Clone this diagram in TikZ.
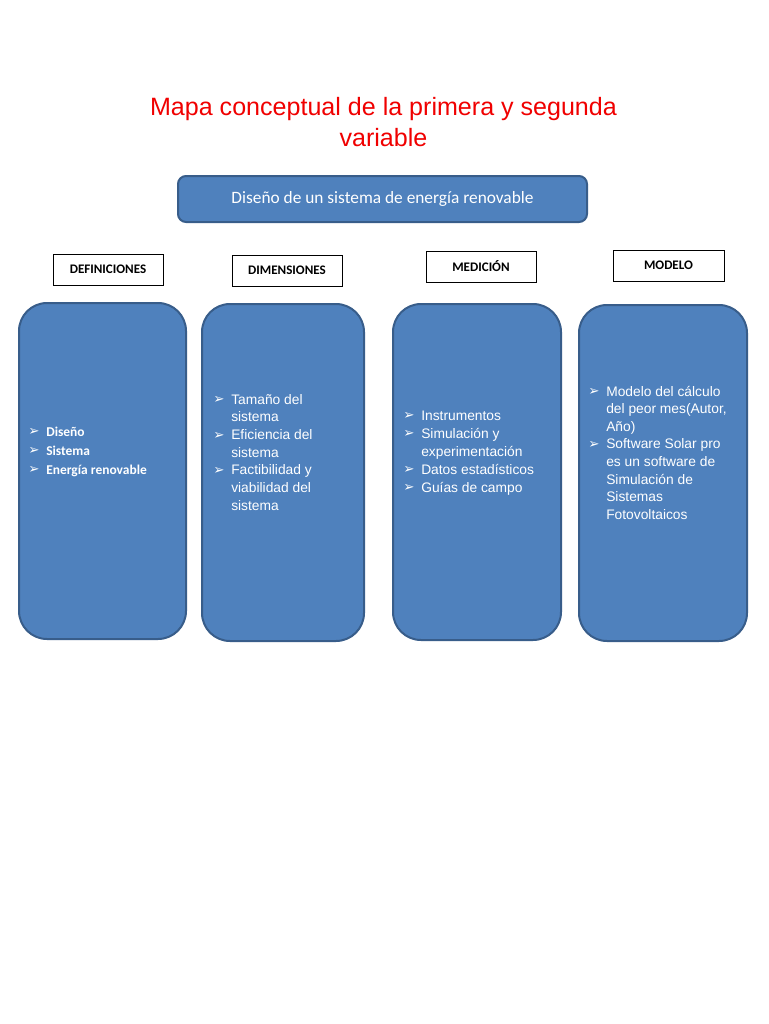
\documentclass[tikz,border=0pt]{standalone}
\usepackage{fontspec}
\setmainfont{Liberation Sans}
\newfontfamily\calfont{Carlito}
\newfontfamily\symfont{DejaVu Sans}
\definecolor{boxfill}{HTML}{4F81BD}
\definecolor{boxline}{HTML}{385D8A}
\definecolor{titlered}{HTML}{F00000}
\newcommand{\blt}{\makebox[13.5pt][l]{\raisebox{0.2pt}{\symfont\fontsize{10pt}{10pt}\selectfont ➢}}}
\newcommand{\itm}[1]{\par\noindent\hangindent=13.5pt\hangafter=1\blt #1}
\tikzset{
  bigbox/.style={draw=boxline, line width=1.5pt, fill=boxfill, rounded corners=21pt, inner sep=0pt},
  topbox/.style={draw=boxline, line width=1.5pt, fill=boxfill, rounded corners=6pt, inner sep=0pt,
    minimum width=306.75pt, minimum height=34.5pt, text=white, font=\calfont\fontsize{13pt}{15pt}\selectfont},
  lblbox/.style={draw=black, line width=0.75pt, fill=white, inner sep=0pt,
    minimum width=82.5pt, minimum height=23.25pt, font=\calfont\bfseries\fontsize{9.8pt}{11pt}\selectfont},
  itemtext/.style={inner sep=0pt, anchor=base west, text=white}
}
\begin{document}
\begin{tikzpicture}[x=0.75pt,y=-0.75pt]
\useasboundingbox (0,0) rectangle (768,1024);
\fill[white] (0,0) rectangle (768,1024);

% title
\node[inner sep=0pt, anchor=base, text=titlered] (title) at (383.5,115)
  {\parbox[t]{400pt}{\centering\fontsize{18.8pt}{23.3pt}\selectfont Mapa conceptual de la primera y segunda\\variable}};

% top box
\node[topbox] (top) at (382.5,199) {Diseño de un sistema de energía renovable};

% labels
\node[lblbox] (def) at (108,269.5) {DEFINICIONES};
\node[lblbox] (dim) at (287,270.5) {DIMENSIONES};
\node[lblbox] (med) at (481,266.5) {MEDICIÓN};
\node[lblbox, minimum width=83.25pt] (mod) at (668.5,265.5) {MODELO};

% big boxes
\node[bigbox, minimum width=125.25pt, minimum height=252pt] (b1) at (102.5,471) {};
\node[bigbox, minimum width=121.5pt, minimum height=252.75pt] (b2) at (283,472.5) {};
\node[bigbox, minimum width=126pt, minimum height=252pt] (b3) at (477,472) {};
\node[bigbox, minimum width=126pt, minimum height=252pt] (b4) at (663,473) {};

% texts
\node[itemtext] (t1) at (28,436) {\parbox[t]{120pt}{\calfont\bfseries\fontsize{10.1pt}{14.25pt}\selectfont
  \itm{Diseño}\itm{Sistema}\itm{Energía renovable}}};
\node[itemtext] (t2) at (213,404) {\parbox[t]{120pt}{\fontsize{10.35pt}{13.3pt}\selectfont
  \itm{Tamaño del\\sistema}\itm{Eficiencia del\\sistema}\itm{Factibilidad y\\viabilidad del\\sistema}}};
\node[itemtext] (t3) at (403,420) {\parbox[t]{125pt}{\fontsize{10.35pt}{13.5pt}\selectfont
  \itm{Instrumentos}\itm{Simulación y\\experimentación}\itm{Datos estadísticos}\itm{Guías de campo}}};
\node[itemtext] (t4) at (588,396) {\parbox[t]{125pt}{\fontsize{10.35pt}{13.2pt}\selectfont
  \itm{Modelo del cálculo\\del peor mes(Autor,\\Año)}\itm{Software Solar pro\\es un software de\\Simulación de\\Sistemas\\Fotovoltaicos}}};
\end{tikzpicture}
\end{document}
